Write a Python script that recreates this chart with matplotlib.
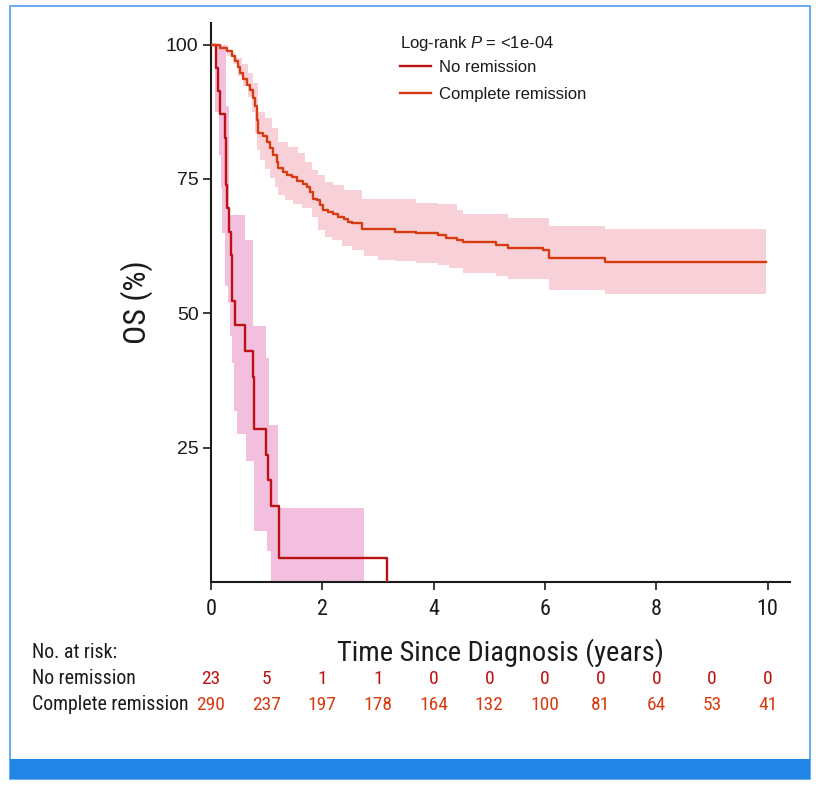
import numpy as np
import matplotlib
matplotlib.use("Agg")
import matplotlib.pyplot as plt
from matplotlib import font_manager, transforms
from matplotlib.patches import Rectangle

# ---------------- data ----------------
# No remission: KM step times (years) and survival (%) after each step
nr_time = [0, 0.09, 0.13, 0.17, 0.26, 0.265, 0.27, 0.28, 0.32, 0.36, 0.38, 0.385,
           0.44, 0.61, 0.76, 0.78, 0.99, 1.03, 1.07, 1.22, 3.17]
nr_surv = [100, 95.7, 91.3, 87.0, 82.6, 78.3, 73.9, 69.6, 65.2, 60.9, 56.5, 52.2,
           47.8, 43.0, 38.1, 28.5, 23.7, 18.9, 14.2, 4.5, 0]
nr_end = 3.17
nr_up_time = [0, 0.27, 0.32, 0.61, 0.76, 0.98, 1.04, 1.21]
nr_up_val = [100, 88.5, 68.2, 63.6, 47.7, 41.7, 29.2, 13.8]
nr_lo_time = [0, 0.07, 0.14, 0.18, 0.20, 0.26, 0.31, 0.34, 0.37, 0.42, 0.46, 0.62,
              0.78, 1.00, 1.08]
nr_lo_val = [100, 87.5, 79.4, 73.3, 65.0, 55.0, 52.0, 45.8, 40.7, 31.8, 27.5, 22.6,
             9.5, 5.8, 0]
nr_ci_end = 2.74

# Complete remission
cr_time = [0, 0.16, 0.28, 0.37, 0.43, 0.49, 0.52, 0.58, 0.64, 0.70,
           0.76, 0.79, 0.82, 0.85, 0.94, 1.00, 1.06, 1.12, 1.18, 1.21,
           1.30, 1.36, 1.45, 1.54, 1.66, 1.72, 1.78, 1.84, 1.90, 1.96,
           2.02, 2.11, 2.20, 2.29, 2.38, 2.46, 2.53, 2.71, 3.30, 3.69,
           4.08, 4.23, 4.41, 4.52, 5.12, 5.34, 5.97, 6.07, 7.07]
cr_surv = [100, 99.4, 98.8, 97.8, 96.9, 95.9, 94.7, 93.5, 92.5, 91.6,
           90.0, 88.5, 86.0, 83.5, 82.9, 81.9, 80.7, 79.4, 78.2, 77.0,
           76.3, 75.7, 75.3, 74.6, 74.1, 73.5, 72.6, 71.3, 71.0, 70.1,
           69.2, 68.8, 68.5, 68.0, 67.6, 67.0, 66.7, 65.7, 65.2, 64.9,
           64.5, 64.0, 63.7, 63.2, 62.7, 62.2, 61.7, 60.2, 59.6]
cr_end = 9.96
cr_up_time = [0, 0.30, 0.43, 0.55, 0.67, 0.76, 0.85, 0.97, 1.09, 1.21, 1.39, 1.57,
              1.69, 1.81, 1.93, 2.05, 2.20, 2.38, 2.71, 3.69, 4.08, 4.41, 4.52,
              5.34, 6.07, 7.07]
cr_up_val = [100, 98.4, 97.5, 96.3, 94.7, 92.8, 87.5, 86.3, 84.4, 81.9, 81.0, 79.8,
             78.2, 76.6, 75.7, 74.5, 73.8, 72.9, 71.2, 70.6, 70.3, 69.3, 68.5,
             67.8, 66.2, 65.6]
cr_lo_time = [0, 0.19, 0.28, 0.40, 0.49, 0.58, 0.67, 0.73, 0.79, 0.82, 0.88, 0.97,
              1.06, 1.15, 1.21, 1.33, 1.48, 1.63, 1.81, 1.93, 2.05, 2.17, 2.35,
              2.53, 2.74, 3.00, 3.30, 3.69, 4.08, 4.28, 4.52, 5.12, 5.34, 6.07, 7.07]
cr_lo_val = [100, 99.1, 97.8, 96.3, 94.1, 92.2, 90.3, 87.5, 83.5, 80.4, 78.5, 76.9,
             75.1, 73.5, 72.0, 71.0, 70.4, 69.5, 67.9, 65.4, 64.2, 63.6, 62.6,
             61.7, 60.7, 60.0, 59.7, 59.3, 58.9, 58.4, 57.5, 57.0, 56.4, 54.4, 53.6]

groups = ["No remission", "Complete remission"]
risk_times = list(range(0, 11))
risk_nr = [23, 5, 1, 1, 0, 0, 0, 0, 0, 0, 0]
risk_cr = [290, 237, 197, 178, 164, 132, 100, 81, 64, 53, 41]
x_ticks = [0, 2, 4, 6, 8, 10]
y_ticks = [25, 50, 75, 100]

# ---------------- fonts ----------------
avail = {f.name for f in font_manager.fontManager.ttflist}
cond = None
for cand in ["Roboto Condensed", "Liberation Sans Narrow", "Open Sans Condensed",
             "DejaVu Sans Condensed"]:
    if cand in avail:
        cond = cand
        break
if cond is None:
    cond = "Liberation Sans"
normal = "Liberation Sans" if "Liberation Sans" in avail else "DejaVu Sans"
plt.rcParams["font.family"] = [normal, "DejaVu Sans"]
plt.rcParams["mathtext.fontset"] = "custom"
plt.rcParams["mathtext.rm"] = normal
plt.rcParams["mathtext.it"] = normal + ":italic"

# ---------------- colors ----------------
c_nr = "#BE1114"
c_cr = "#D63C12"
f_nr = "#F3BFDF"
f_cr = "#F8D0D7"
txt = "#1A1A1A"

W, H = 816, 785
fig = plt.figure(figsize=(W / 100, H / 100), dpi=100)

def px(x0, y0, x1, y1):
    return [x0 / W, 1 - y1 / H, (x1 - x0) / W, (y1 - y0) / H]

ax = fig.add_axes(px(211, 23, 790, 582))

def step_eval(ts, vs, grid):
    ts = np.asarray(ts); vs = np.asarray(vs)
    idx = np.searchsorted(ts, grid, side="right") - 1
    return vs[np.clip(idx, 0, len(vs) - 1)]

def band(lo_t, lo_v, up_t, up_v, end, color):
    grid = np.unique(np.concatenate([lo_t, up_t, [end]]))
    lo = step_eval(lo_t, lo_v, grid)
    up = step_eval(up_t, up_v, grid)
    ax.fill_between(grid, lo, up, step="post", color=color, lw=0, zorder=1)

band(cr_lo_time, cr_lo_val, cr_up_time, cr_up_val, cr_end, f_cr)
band(nr_lo_time, nr_lo_val, nr_up_time, nr_up_val, nr_ci_end, f_nr)

l1, = ax.step(nr_time, nr_surv, where="post", color=c_nr, lw=1.7, zorder=3,
              label=groups[0])
l2, = ax.step(cr_time + [cr_end], cr_surv + [cr_surv[-1]], where="post",
              color=c_cr, lw=1.7, zorder=3, label=groups[1])

ax.set_xlim(0, 10.4)
ax.set_ylim(0, 104)
ax.set_xticks(x_ticks)
ax.set_yticks(y_ticks)
for s in ["top", "right"]:
    ax.spines[s].set_visible(False)
for s in ["left", "bottom"]:
    ax.spines[s].set_linewidth(1.5)
    ax.spines[s].set_color(txt)
ax.tick_params(direction="out", length=6, width=1.2, colors=txt)
ax.tick_params(axis="y", labelsize=14, pad=3)
ax.tick_params(axis="x", labelsize=16, pad=6)
for lab in ax.get_xticklabels():
    lab.set_fontfamily(cond)
for lab in ax.get_yticklabels():
    lab.set_fontfamily(normal)

ax.set_xlabel("Time Since Diagnosis (years)", fontsize=20.5, family=cond, color=txt,
              labelpad=13)
ax.set_ylabel("OS (%)", fontsize=23, family=cond, color=txt, labelpad=9)

leg = ax.legend(handles=[l1, l2], loc="upper left",
                bbox_to_anchor=(400 / W, 1 - 34 / H), bbox_transform=fig.transFigure,
                frameon=False, fontsize=12, title="Log-rank $\\mathit{P}$ = <1e-04",
                title_fontsize=12, alignment="left", handlelength=1.85,
                handletextpad=0.5, labelspacing=0.72, borderpad=0, borderaxespad=0)
leg._legend_box.sep = 5
leg.get_title().set_color(txt)
for t in leg.get_texts():
    t.set_color(txt)

# risk table
trans = transforms.blended_transform_factory(ax.transData, fig.transFigure)
rs = 14.3
fig.text(32 / W, 1 - 653 / H, "No. at risk:", fontsize=rs, family=cond, color=txt,
         va="center", ha="left")
fig.text(32 / W, 1 - 679 / H, groups[0], fontsize=rs, family=cond, color=txt,
         va="center", ha="left")
fig.text(32 / W, 1 - 705 / H, groups[1], fontsize=rs, family=cond, color=txt,
         va="center", ha="left")
for t, a, b in zip(risk_times, risk_nr, risk_cr):
    fig.text(t, 1 - 679 / H, str(a), transform=trans, fontsize=14, family=cond,
             color=c_nr, va="center", ha="center")
    fig.text(t, 1 - 705 / H, str(b), transform=trans, fontsize=14, family=cond,
             color=c_cr, va="center", ha="center")

# frame and bottom bar
fig.patches.append(Rectangle((9.5 / W, 1 - 779 / H), 800.5 / W, 773.5 / H,
                             transform=fig.transFigure, fill=False,
                             edgecolor="#5AA6EE", lw=1.3, zorder=0))
fig.patches.append(Rectangle((9.5 / W, 1 - 779 / H), 800.5 / W, 20 / H,
                             transform=fig.transFigure, facecolor="#2185E6",
                             edgecolor="none", zorder=1))

fig.savefig("out.png", dpi=100)
